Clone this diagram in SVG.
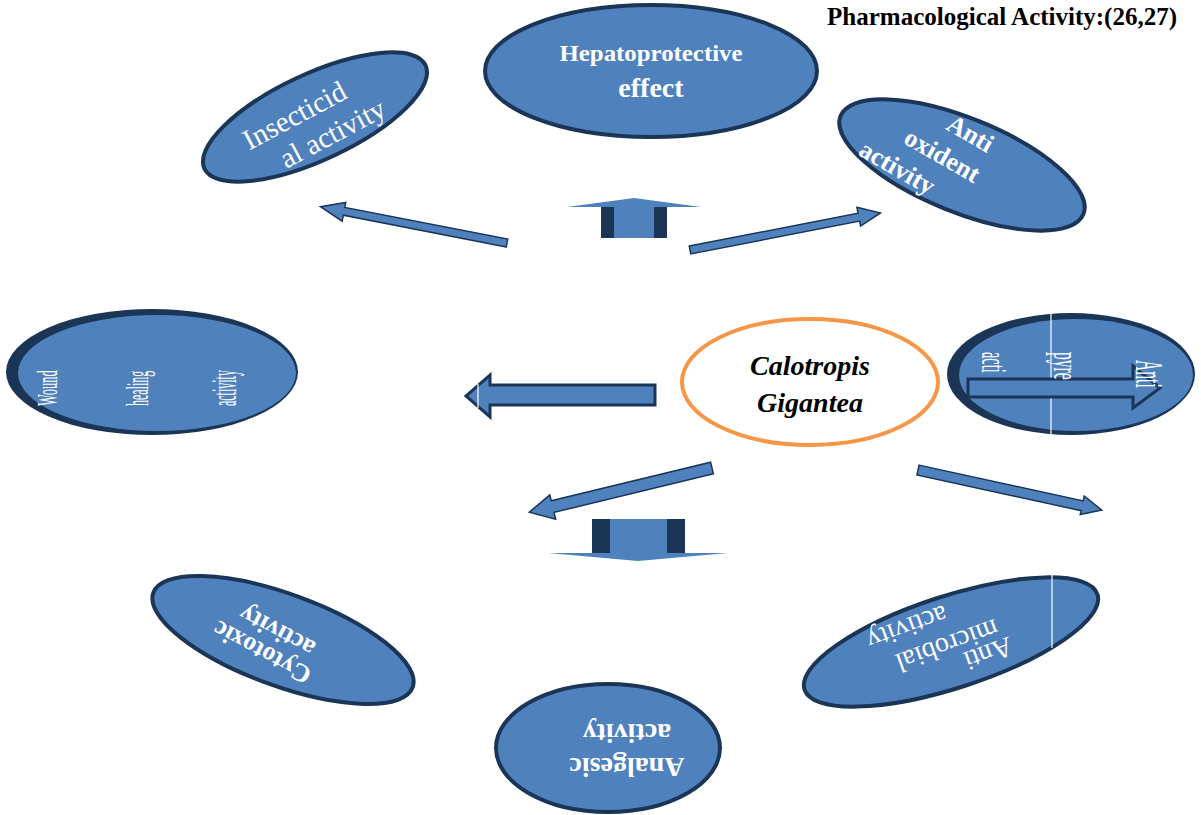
<svg xmlns="http://www.w3.org/2000/svg" width="1201" height="815" viewBox="0 0 1201 815">
<style>
.node{fill:#4F81BD;stroke:#1B3556;stroke-width:4}
.rim{fill:#1B3556}
.inner{fill:#4F81BD}
.w{fill:#fff;font-family:"Liberation Serif","Times New Roman",serif}
.b{font-weight:bold}
.arr{fill:#4F81BD;stroke:#1B3556;stroke-width:1.5;stroke-linejoin:miter}
.dk{fill:#1B3556}
.art{stroke:#fff;stroke-width:1.2}
</style>
<rect width="1201" height="815" fill="#fff"/>
<text x="1177" y="25" text-anchor="end" font-family="Liberation Serif,'Times New Roman',serif" font-weight="bold" font-size="25" fill="#000">Pharmacological Activity:(26,27)</text>

<g id="connectors">
  <polygon class="arr" transform="translate(507,243) rotate(191)" points="0,-4 166,-4 166,-10 190,0 166,9 166,4 0,4"/>
  <polygon class="arr" transform="translate(690,250) rotate(-11)" points="0,-4 172,-4 172,-10 194,0 172,9 172,4 0,4"/>
  <g id="up-arrow">
    <polygon class="inner" points="567,207 634,198 701,207"/>
    <rect class="inner" x="601" y="207" width="66" height="31"/>
    <rect class="dk" x="601" y="207" width="13" height="31"/>
    <rect class="dk" x="654" y="207" width="13" height="31"/>
  </g>
  <polygon fill="#4F81BD" stroke="#1B3556" stroke-width="3" points="655,385 490,385 490,375 466,396 490,417 490,405 655,405"/>
  <line class="art" x1="478" y1="384" x2="478" y2="408"/>
  <polygon class="arr" transform="translate(712,468) rotate(166.4)" points="0,-6 164,-6 164,-13 188,0 164,12 164,6 0,6"/>
  <polygon class="arr" transform="translate(918,470) rotate(12.3)" points="0,-5 168,-5 168,-10 188,0 168,9 168,5 0,5"/>
  <g id="down-arrow">
    <rect class="inner" x="592" y="519" width="93" height="34"/>
    <rect class="dk" x="592" y="519" width="18" height="34"/>
    <rect class="dk" x="667" y="519" width="18" height="34"/>
    <polygon class="inner" points="548,553 638,561 728,553"/>
  </g>
</g>

<g id="hepatoprotective">
  <ellipse class="node" cx="651" cy="71" rx="166" ry="66"/>
  <text class="w b" x="651" y="61" text-anchor="middle" font-size="23" textLength="183" lengthAdjust="spacingAndGlyphs">Hepatoprotective</text>
  <text class="w b" x="651" y="97" text-anchor="middle" font-size="28">effect</text>
</g>

<g id="insecticidal">
  <ellipse class="node" transform="translate(315,117) rotate(-25)" cx="0" cy="0" rx="122" ry="43"/>
  <text class="w" transform="translate(299,124) rotate(-28)" text-anchor="middle" font-size="29">Insecticid</text>
  <text class="w" transform="translate(337,142) rotate(-28)" text-anchor="middle" font-size="29">al activity</text>
</g>

<g id="antioxidant">
  <ellipse class="node" transform="translate(962,165) rotate(22)" cx="0" cy="0" rx="131" ry="47"/>
  <text class="w b" transform="translate(966,141) rotate(30)" text-anchor="middle" font-size="26">Anti</text>
  <text class="w b" transform="translate(938,163) rotate(30)" text-anchor="middle" font-size="26">oxident</text>
  <text class="w b" transform="translate(893,175) rotate(30)" text-anchor="middle" font-size="26">activity</text>
</g>

<g id="wound-healing">
  <ellipse class="rim" cx="152" cy="372" rx="146" ry="63"/>
  <ellipse class="inner" cx="157" cy="373" rx="139" ry="58"/>
  <text class="w" transform="translate(57,406) rotate(-90) scale(0.48,1.1)" font-size="26">Wound</text>
  <text class="w" transform="translate(148,406) rotate(-90) scale(0.46,1.2)" font-size="26">healing</text>
  <text class="w" transform="translate(236,406) rotate(-90) scale(0.46,1.35)" font-size="26">activity</text>
</g>

<g id="calotropis">
  <ellipse cx="810" cy="382" rx="128" ry="63" fill="#fff" stroke="#F79646" stroke-width="4"/>
  <text x="810" y="375" text-anchor="middle" font-family="Liberation Serif,'Times New Roman',serif" font-weight="bold" font-style="italic" font-size="28" fill="#000">Calotropis</text>
  <text x="810" y="412" text-anchor="middle" font-family="Liberation Serif,'Times New Roman',serif" font-weight="bold" font-style="italic" font-size="28" fill="#000">Gigantea</text>
</g>

<g id="antipyretic">
  <ellipse class="rim" cx="1071" cy="374" rx="124" ry="61"/>
  <ellipse class="inner" cx="1076" cy="375" rx="117" ry="56"/>
  <line class="art" x1="1051" y1="313" x2="1051" y2="435"/>
  <polygon fill="#4F81BD" stroke="#1B3556" stroke-width="3" points="968,379 1133,379 1133,366 1160,388 1133,408 1133,397 968,397"/>
  <text class="w" transform="translate(1136,360) rotate(90) scale(0.6,1.5)" font-size="26">Anti</text>
  <text class="w" transform="translate(1054,352) rotate(90) scale(0.6,1.4)" font-size="26">pyre</text>
  <text class="w" transform="translate(982,352) rotate(90) scale(0.55,1.4)" font-size="26">acti</text>
</g>

<g id="cytotoxic">
  <ellipse class="node" transform="translate(283,640) rotate(20)" cx="0" cy="0" rx="138" ry="46"/>
  <text class="w b" transform="translate(266,645) rotate(208)" text-anchor="middle" font-size="26">Cytotoxic</text>
  <text class="w b" transform="translate(281,624) rotate(208)" text-anchor="middle" font-size="26">activity</text>
</g>

<g id="antimicrobial">
  <ellipse class="node" transform="translate(951,642) rotate(-18)" cx="0" cy="0" rx="154" ry="46"/>
  <line class="art" x1="1052" y1="573" x2="1052" y2="648"/>
  <text class="w" transform="translate(985,645) rotate(160)" text-anchor="middle" font-size="28">Anti</text>
  <text class="w" transform="translate(944,637) rotate(160)" text-anchor="middle" font-size="28">microbial</text>
  <text class="w" transform="translate(904,619) rotate(160)" text-anchor="middle" font-size="28">activity</text>
</g>

<g id="analgesic">
  <ellipse class="node" cx="608" cy="748" rx="112" ry="64"/>
  <text class="w b" transform="translate(627,758) rotate(180)" text-anchor="middle" font-size="28">Analgesic</text>
  <text class="w b" transform="translate(627,724) rotate(180)" text-anchor="middle" font-size="28">activity</text>
</g>
</svg>
